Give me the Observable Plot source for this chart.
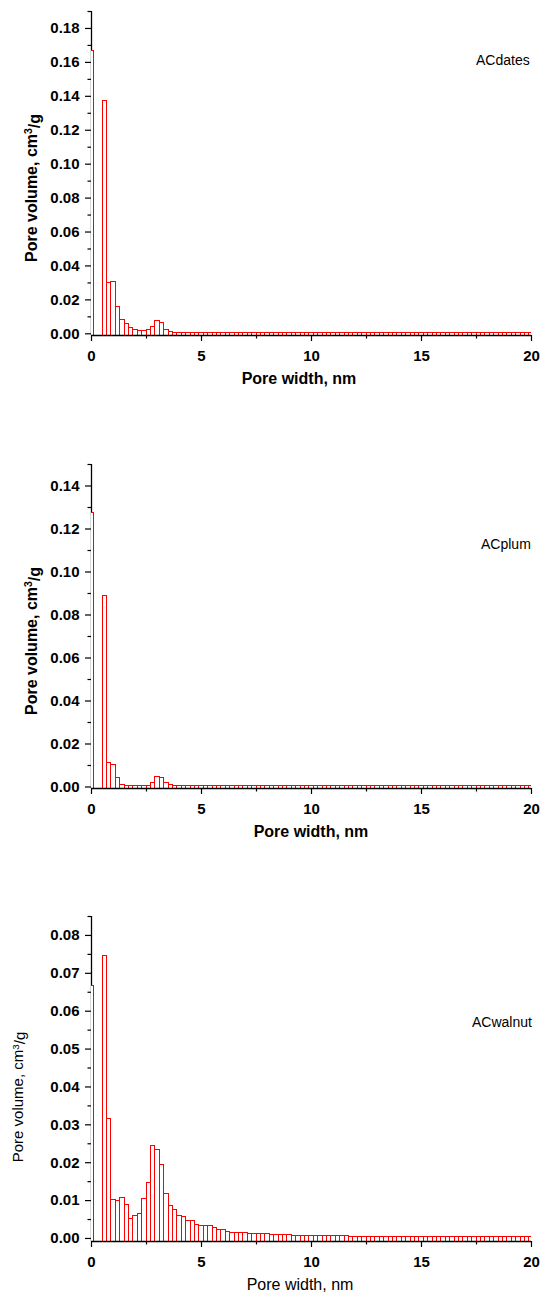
<!DOCTYPE html>
<html>
<head>
<meta charset="utf-8">
<script src="https://cdn.jsdelivr.net/npm/d3@7"></script>
<script src="https://cdn.jsdelivr.net/npm/@observablehq/plot@0.6"></script>
<style>
  html, body { margin: 0; padding: 0; background: #fff; overflow: hidden; }
  #chart svg { display: block; }
</style>
</head>
<body>
<div id="chart"></div>
<script>
// ---- data ----
const poreWidth = [0.0,
  0.6,0.8,1.0,1.2,1.4,1.6,1.8,2.0,2.2,2.4,
  2.6,2.8,3.0,3.2,3.4,3.6,3.8,4.0,4.2,4.4,
  4.6,4.8,5.0,5.2,5.4,5.6,5.8,6.0,6.2,6.4,
  6.6,6.8,7.0,7.2,7.4,7.6,7.8,8.0,8.2,8.4,
  8.6,8.8,9.0,9.2,9.4,9.6,9.8,10.0,10.2,10.4,
  10.6,10.8,11.0,11.2,11.4,11.6,11.8,12.0,12.2,12.4,
  12.6,12.8,13.0,13.2,13.4,13.6,13.8,14.0,14.2,14.4,
  14.6,14.8,15.0,15.2,15.4,15.6,15.8,16.0,16.2,16.4,
  16.6,16.8,17.0,17.2,17.4,17.6,17.8,18.0,18.2,18.4,
  18.6,18.8,19.0,19.2,19.4,19.6,19.8,20.0];

const acDates = [0.1669,
  0.1374,0.0300,0.0306,0.0157,0.0082,0.0055,0.0035,0.0024,0.0018,0.0018,
  0.0024,0.0043,0.0073,0.0063,0.0020,0.0010,0.0007,0.0006,0.0006,0.0006,
  0.0006,0.0006,0.0006,0.0006,0.0006,0.0006,0.0006,0.0006,0.0006,0.0006,
  0.0006,0.0006,0.0006,0.0006,0.0005,0.0005,0.0005,0.0005,0.0005,0.0005,
  0.0005,0.0005,0.0005,0.0005,0.0005,0.0005,0.0005,0.0005,0.0005,0.0005,
  0.0005,0.0005,0.0005,0.0005,0.0005,0.0005,0.0005,0.0005,0.0005,0.0005,
  0.0005,0.0005,0.0005,0.0005,0.0005,0.0004,0.0004,0.0004,0.0004,0.0004,
  0.0004,0.0004,0.0004,0.0004,0.0004,0.0004,0.0004,0.0004,0.0004,0.0004,
  0.0004,0.0004,0.0004,0.0004,0.0004,0.0004,0.0004,0.0004,0.0004,0.0004,
  0.0004,0.0004,0.0004,0.0004,0.0004,0.0004,0.0004,0.0004];

const acPlum = [0.1274,
  0.0887,0.0110,0.0104,0.0040,0.0008,0.0005,0.0003,0.0003,0.0003,0.0003,
  0.0006,0.0020,0.0048,0.0042,0.0017,0.0009,0.0006,0.0005,0.0005,0.0005,
  0.0005,0.0005,0.0005,0.0005,0.0005,0.0005,0.0005,0.0005,0.0005,0.0005,
  0.0005,0.0005,0.0005,0.0005,0.0005,0.0005,0.0005,0.0005,0.0005,0.0005,
  0.0005,0.0005,0.0005,0.0005,0.0005,0.0005,0.0004,0.0004,0.0004,0.0004,
  0.0004,0.0004,0.0004,0.0004,0.0004,0.0004,0.0004,0.0004,0.0004,0.0004,
  0.0004,0.0004,0.0004,0.0004,0.0004,0.0004,0.0004,0.0004,0.0004,0.0004,
  0.0004,0.0004,0.0004,0.0004,0.0004,0.0004,0.0004,0.0004,0.0004,0.0004,
  0.0004,0.0004,0.0004,0.0004,0.0004,0.0004,0.0004,0.0004,0.0004,0.0004,
  0.0004,0.0004,0.0004,0.0004,0.0004,0.0004,0.0004,0.0004];

const acWalnut = [0.0666,
  0.0747,0.0316,0.0101,0.0100,0.0107,0.0088,0.0052,0.0060,0.0065,0.0105,
  0.0146,0.0243,0.0233,0.0194,0.0118,0.0086,0.0075,0.0059,0.0056,0.0047,
  0.0045,0.0035,0.0034,0.0033,0.0033,0.0027,0.0022,0.0022,0.0016,0.0014,
  0.0014,0.0014,0.0014,0.0013,0.0011,0.0011,0.0011,0.0011,0.0008,0.0008,
  0.0008,0.0008,0.0008,0.0007,0.0007,0.0007,0.0006,0.0006,0.0006,0.0006,
  0.0006,0.0006,0.0006,0.0006,0.0006,0.0006,0.0005,0.0005,0.0005,0.0005,
  0.0005,0.0005,0.0005,0.0005,0.0005,0.0005,0.0005,0.0005,0.0005,0.0005,
  0.0005,0.0005,0.0005,0.0005,0.0003,0.0003,0.0003,0.0003,0.0003,0.0003,
  0.0003,0.0003,0.0003,0.0003,0.0003,0.0003,0.0003,0.0003,0.0003,0.0003,
  0.0003,0.0003,0.0003,0.0003,0.0003,0.0003,0.0003,0.0003];

const xTicks = [0, 5, 10, 15, 20];
const xMinorTicks = [2.5, 7.5, 12.5, 17.5];
const yTicksDates = [0, 0.02, 0.04, 0.06, 0.08, 0.10, 0.12, 0.14, 0.16, 0.18];
const yMinorDates = [0.01, 0.03, 0.05, 0.07, 0.09, 0.11, 0.13, 0.15, 0.17, 0.19];
const yTicksPlum = [0, 0.02, 0.04, 0.06, 0.08, 0.10, 0.12, 0.14];
const yMinorPlum = [0.01, 0.03, 0.05, 0.07, 0.09, 0.11, 0.13, 0.15];
const yTicksWalnut = [0, 0.01, 0.02, 0.03, 0.04, 0.05, 0.06, 0.07, 0.08];
const yMinorWalnut = [0.005, 0.015, 0.025, 0.035, 0.045, 0.055, 0.065, 0.075, 0.085];

const xTitle = "Pore width, nm";
const yTitle = "Pore volume, cm";
const panelNames = ["ACdates", "ACplum", "ACwalnut"];

// ---- drawing ----
const FONT = "'Liberation Sans', Arial, Helvetica, sans-serif";
const RED = "#ff0000";
const fmt = d3.format(".2f");

function panel(cfg) {
  const data = poreWidth.map((w, i) => ({w, v: cfg.values[i]}));
  const base = cfg.yDomain[0];
  const svg = Plot.plot({
    width: 550,
    height: cfg.height,
    marginTop: cfg.marginTop,
    marginBottom: cfg.marginBottom,
    marginLeft: 91,
    marginRight: 19,
    x: {domain: [0, 20]},
    y: {domain: cfg.yDomain},
    style: {fontFamily: FONT, fontSize: "15px", fontWeight: "bold", color: "#000", background: "#fff"},
    marks: [
      Plot.ruleX([0], {stroke: "#000", strokeWidth: 1.3}),
      Plot.rect(data, {
        x1: d => d.w - 0.1, x2: d => d.w + 0.1,
        y1: base, y2: "v",
        fill: "white", stroke: RED, strokeWidth: 1, clip: true,
        shapeRendering: "crispEdges"
      }),
      Plot.axisX({ticks: xTicks, tickSize: 6, tickPadding: 9, label: null,
        tickFormat: d => String(d), strokeWidth: 1.2, fontSize: 15, fontWeight: "bold", fill: "#000"}),
      Plot.axisX({ticks: xMinorTicks, tickSize: 3.5, label: null, tickFormat: () => "", strokeWidth: 1.2}),
      Plot.axisY({ticks: cfg.yTicks, tickSize: 6, tickPadding: 6, label: null,
        tickFormat: fmt, strokeWidth: 1.2, fontSize: 15, fontWeight: "bold", fill: "#000"}),
      Plot.axisY({ticks: cfg.yMinor, tickSize: 3.5, label: null, tickFormat: () => "", strokeWidth: 1.2}),
      Plot.ruleY([base], {stroke: "#000", strokeWidth: 1.3})
    ]
  });
  const s = d3.select(svg);
  const axisBottom = cfg.height - cfg.marginBottom;
  const wt = cfg.boldTitles ? "bold" : "normal";
  // x title
  s.append("text")
    .attr("x", cfg.xTitleX).attr("y", axisBottom + 49)
    .attr("text-anchor", "middle")
    .style("font-family", FONT).style("font-size", cfg.xTitleSize + "px").style("font-weight", wt)
    .attr("fill", "#000")
    .text(xTitle);
  // y title (rotated) with superscript
  const yt = s.append("text")
    .attr("transform", `translate(${cfg.yTitleX},${cfg.yTitleY}) rotate(-90)`)
    .attr("text-anchor", "middle")
    .style("font-family", FONT).style("font-size", cfg.yTitleSize + "px").style("font-weight", wt)
    .attr("fill", "#000");
  yt.append("tspan").text(yTitle);
  yt.append("tspan").attr("dy", "-0.45em").style("font-size", "0.65em").text("3");
  yt.append("tspan").attr("dy", "0.45em").text("/g");
  // sample name
  s.append("text")
    .attr("x", cfg.nameX).attr("y", cfg.nameY)
    .attr("text-anchor", "start")
    .style("font-family", FONT).style("font-size", "14px").style("font-weight", "normal")
    .attr("fill", "#000")
    .text(cfg.name);
  return svg;
}

const root = document.getElementById("chart");
root.appendChild(panel({
  values: acDates, yDomain: [-0.001, 0.19], yTicks: yTicksDates, yMinor: yMinorDates,
  height: 440, marginTop: 11, marginBottom: 105, boldTitles: true,
  xTitleX: 299, xTitleSize: 16, yTitleX: 37, yTitleY: 188, yTitleSize: 16,
  name: panelNames[0], nameX: 476, nameY: 65
}));
root.appendChild(panel({
  values: acPlum, yDomain: [-0.0007, 0.15], yTicks: yTicksPlum, yMinor: yMinorPlum,
  height: 450, marginTop: 24, marginBottom: 102, boldTitles: true,
  xTitleX: 311, xTitleSize: 16, yTitleX: 37, yTitleY: 201, yTitleSize: 16,
  name: panelNames[1], nameX: 481, nameY: 109
}));
root.appendChild(panel({
  values: acWalnut, yDomain: [-0.0008, 0.085], yTicks: yTicksWalnut, yMinor: yMinorWalnut,
  height: 415, marginTop: 26, marginBottom: 64, boldTitles: false,
  xTitleX: 300, xTitleSize: 16, yTitleX: 23, yTitleY: 207, yTitleSize: 15,
  name: panelNames[2], nameX: 472, nameY: 137
}));
</script>
</body>
</html>
